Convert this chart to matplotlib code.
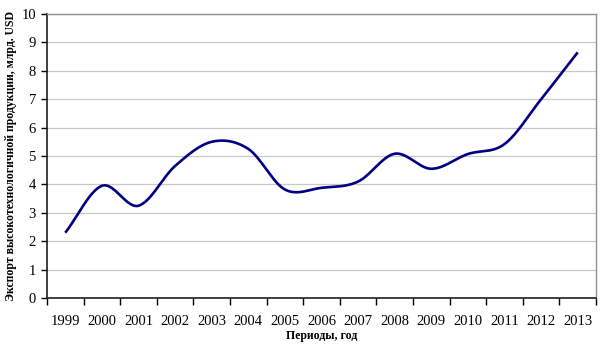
import numpy as np
import matplotlib
matplotlib.use('Agg')
import matplotlib.pyplot as plt

# export of high-tech products, bln USD, by year
years = ['1999', '2000', '2001', '2002', '2003', '2004', '2005', '2006',
         '2007', '2008', '2009', '2010', '2011', '2012', '2013']
export = [2.3, 3.95, 3.25, 4.65, 5.5, 5.25, 3.82, 3.88,
          4.1, 5.08, 4.55, 5.07, 5.42, 7.0, 8.65]

plt.rcParams['font.family'] = ['Liberation Serif', 'DejaVu Serif']


# smooth line the way a spreadsheet draws it (catmull-rom through the points)
def smooth(y, n=30):
    x = np.arange(len(y), dtype=float)
    p = np.concatenate([[2 * y[0] - y[1]], y, [2 * y[-1] - y[-2]]])
    xs, ys = [], []
    for i in range(len(y) - 1):
        p0, p1, p2, p3 = p[i], p[i + 1], p[i + 2], p[i + 3]
        t = np.linspace(0, 1, n, endpoint=False)
        yy = 0.5 * ((2 * p1) + (-p0 + p2) * t
                    + (2 * p0 - 5 * p1 + 4 * p2 - p3) * t ** 2
                    + (-p0 + 3 * p1 - 3 * p2 + p3) * t ** 3)
        xs.append(x[i] + t)
        ys.append(yy)
    xs.append([x[-1]])
    ys.append([y[-1]])
    return np.concatenate(xs), np.concatenate(ys)


fig = plt.figure(figsize=(6.01, 3.46), dpi=100)
ax = fig.add_axes([0.0782, 0.1387, 0.9135, 0.8208])

sx, sy = smooth(np.array(export))
ax.plot(sx, sy, color='#000080', lw=1.9, solid_capstyle='butt')

ax.set_xlim(-0.5, len(years) - 0.5)
ax.set_ylim(0, 10)
ax.set_yticks(range(0, 11))
ax.yaxis.grid(True, color='#c8c8c8', lw=0.9)
ax.set_axisbelow(True)

ax.set_xticks(np.arange(-0.5, len(years), 1.0))
ax.set_xticklabels([])
ax.set_xticks(np.arange(len(years)), minor=True)
ax.set_xticklabels(years, minor=True)
ax.tick_params(axis='x', which='minor', length=0, pad=12, labelsize=10.5)
ax.tick_params(axis='x', which='major', length=5, width=1, direction='out')
ax.tick_params(axis='y', length=4, width=1, labelsize=10.5, pad=4)

for s in ['left', 'bottom']:
    ax.spines[s].set_color('#202020')
    ax.spines[s].set_linewidth(1.2)
for s in ['top', 'right']:
    ax.spines[s].set_color('#909090')
    ax.spines[s].set_linewidth(1)

ax.set_xlabel('Периоды, год', fontsize=8.5, fontweight='bold', labelpad=2)
ax.set_ylabel('Экспорт высокотехнологичной продукции, млрд. USD',
              fontsize=8.5, fontweight='bold', labelpad=3)

fig.savefig('out.png', dpi=100)
